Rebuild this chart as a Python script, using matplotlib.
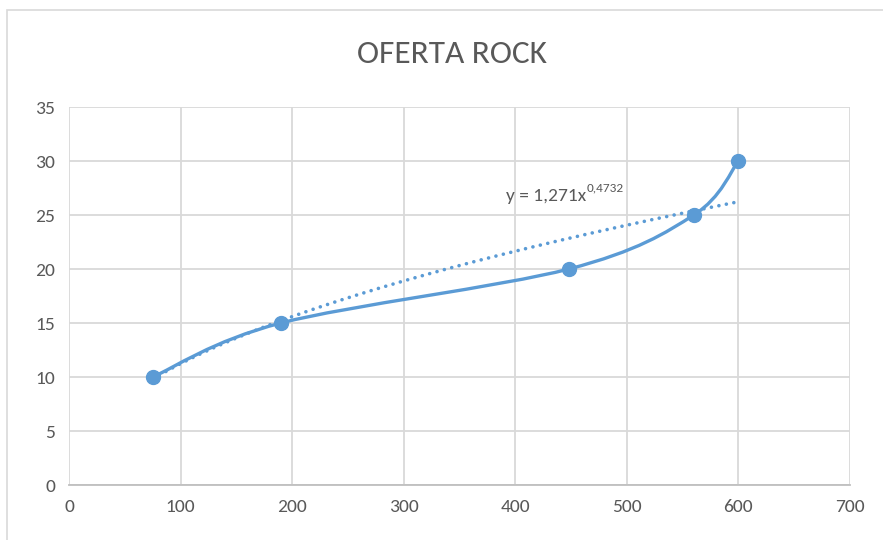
import matplotlib
matplotlib.use("Agg")
import matplotlib.pyplot as plt
import numpy as np
from matplotlib.patches import Rectangle, PathPatch
from matplotlib.path import Path

plt.rcParams["font.family"] = ["Carlito", "Lato", "DejaVu Sans"]

# ---- 数据 ----
precio = [75, 190, 448, 560, 600]
cantidad = [10, 15, 20, 25, 30]
tend_a, tend_b = 1.271, 0.4732          # y = a x^b (línea de tendencia mostrada)
tend_x = (75, 600)
titulo = "OFERTA ROCK"
etiqueta_base = "y = 1,271x"
etiqueta_exp = "0,4732"

azul = "#5B9BD5"
gris_txt = "#595959"
gris_grid = "#D9D9D9"

fig = plt.figure(figsize=(8.83, 5.40), dpi=100)
ax = fig.add_axes([69 / 883, 1 - 485 / 540, (850 - 69) / 883, (485 - 107) / 540])

# marco del gráfico
fig.patches.append(Rectangle((7 / 883, -0.1), 1.2, 1 - 10 / 540 + 0.1,
                             transform=fig.transFigure, fill=False,
                             ec=gris_grid, lw=1.2))

ax.set_xlim(0, 700)
ax.set_ylim(0, 35)
ax.set_xticks(range(0, 701, 100))
ax.set_yticks(range(0, 36, 5))
ax.grid(color=gris_grid, lw=1.3)
ax.set_axisbelow(True)
for s in ("top", "right", "left"):
    ax.spines[s].set_visible(False)
ax.spines["bottom"].set_color("#BFBFBF")
ax.spines["bottom"].set_linewidth(1.3)
ax.tick_params(length=0, labelsize=14, labelcolor=gris_txt, pad=10)

# curva suavizada tipo Excel (Catmull-Rom en espacio de pantalla)
fig.canvas.draw()
pts = ax.transData.transform(np.column_stack([precio, cantidad]))
ext = np.vstack([pts[0], pts, pts[-1]])
verts, codes = [pts[0]], [Path.MOVETO]
for i in range(len(pts) - 1):
    p0, p1, p2, p3 = ext[i], ext[i + 1], ext[i + 2], ext[i + 3]
    c1 = p1 + (p2 - p0) / 6
    c2 = p2 - (p3 - p1) / 6
    verts += [c1, c2, p2]
    codes += [Path.CURVE4] * 3
path = Path(ax.transData.inverted().transform(np.array(verts)), codes)
ax.add_patch(PathPatch(path, fill=False, ec=azul, lw=2.4, capstyle="round", zorder=3))
ax.plot(precio, cantidad, "o", color=azul, ms=10, zorder=4)

# línea de tendencia potencial
xt = np.linspace(tend_x[0], tend_x[1], 300)
ax.plot(xt, tend_a * xt ** tend_b, ls=(0, (0.01, 2.1)), color=azul, lw=2.6,
        dash_capstyle="round", zorder=2)
base = ax.text(392, 26.8, etiqueta_base, fontsize=14, color=gris_txt,
               ha="left", va="center")
ax.annotate(etiqueta_exp, xy=(1, 0.62), xycoords=base, fontsize=9.5,
            color=gris_txt, ha="left", va="bottom")

fig.text(452 / 883, 1 - 54 / 540, titulo, fontsize=24, color=gris_txt,
         ha="center", va="center")

fig.savefig("out.png", dpi=100)
